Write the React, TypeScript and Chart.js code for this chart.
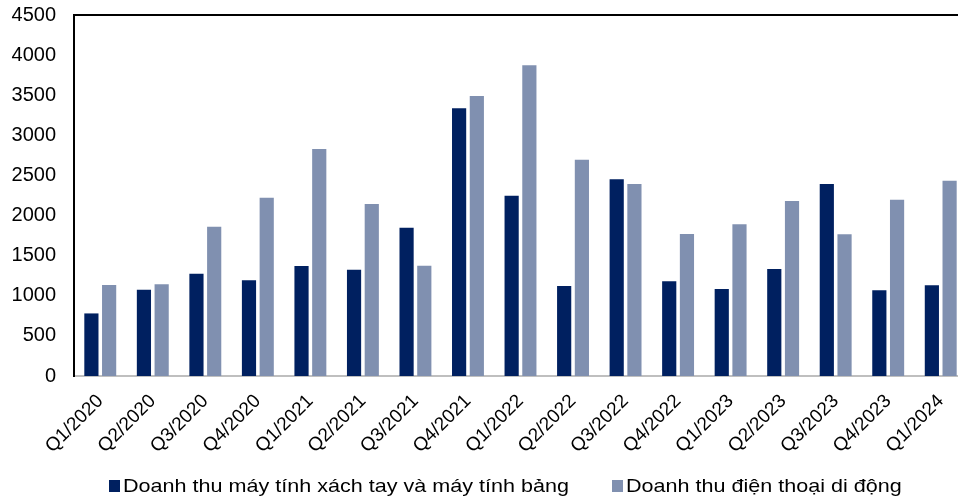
import React, { useEffect, useRef } from "react";
import { Chart, registerables } from "chart.js";

Chart.register(...registerables);

const categories = [
  "Q1/2020", "Q2/2020", "Q3/2020", "Q4/2020",
  "Q1/2021", "Q2/2021", "Q3/2021", "Q4/2021",
  "Q1/2022", "Q2/2022", "Q3/2022", "Q4/2022",
  "Q1/2023", "Q2/2023", "Q3/2023", "Q4/2023",
  "Q1/2024",
];

const laptopTablet = [780, 1076, 1276, 1193, 1371, 1325, 1849, 3337, 2248, 1122, 2452, 1180, 1085, 1334, 2393, 1068, 1131];
const mobilePhone = [1135, 1143, 1862, 2223, 2830, 2144, 1375, 3490, 3873, 2697, 2393, 1770, 1891, 2182, 1766, 2198, 2435];

const seriesNames = [
  "Doanh thu máy tính xách tay và máy tính bảng",
  "Doanh thu điện thoại di động",
];
const seriesColors = ["#002060", "#8090B0"];

const yMin = 0;
const yMax = 4500;
const yStep = 500;

const FONT = "'Liberation Sans', Arial, sans-serif";

const frame = {
  id: "frame",
  afterDraw(chart: any) {
    const { ctx, chartArea } = chart;
    ctx.save();
    ctx.strokeStyle = "#000000";
    ctx.lineWidth = 2;
    ctx.beginPath();
    ctx.moveTo(chartArea.left, chartArea.bottom);
    ctx.lineTo(chartArea.left, chartArea.top);
    ctx.lineTo(chartArea.right, chartArea.top);
    ctx.lineTo(chartArea.right, chartArea.bottom);
    ctx.stroke();
    ctx.restore();
  },
};

export default function App() {
  const ref = useRef<HTMLCanvasElement>(null);

  useEffect(() => {
    document.body.style.margin = "0";
    document.body.style.overflow = "hidden";
    const chart = new Chart(ref.current!, {
      type: "bar",
      data: {
        labels: categories,
        datasets: [
          {
            label: seriesNames[0],
            data: laptopTablet,
            backgroundColor: seriesColors[0],
            borderWidth: 0,
            categoryPercentage: 0.675,
            barPercentage: 0.8,
          },
          {
            label: seriesNames[1],
            data: mobilePhone,
            backgroundColor: seriesColors[1],
            borderWidth: 0,
            categoryPercentage: 0.675,
            barPercentage: 0.8,
          },
        ],
      },
      options: {
        responsive: false,
        animation: false,
        layout: { padding: { top: 15, right: 0, left: 0, bottom: 0 } },
        plugins: {
          legend: { display: false },
          tooltip: { enabled: false },
        },
        scales: {
          x: {
            grid: { display: false, drawTicks: false },
            border: { display: true, color: "#BFBFBF", width: 2 },
            ticks: {
              color: "#000000",
              font: { family: FONT, size: 19 },
              minRotation: 45,
              maxRotation: 45,
              padding: 14,
              autoSkip: false,
            },
            afterFit: (scale: any) => {
              scale.height = 123;
              scale.paddingLeft = 0;
              scale.paddingRight = 0;
            },
          },
          y: {
            min: yMin,
            max: yMax,
            grid: { display: false, drawTicks: false },
            border: { display: true, color: "#000000", width: 2 },
            ticks: {
              stepSize: yStep,
              color: "#000000",
              font: { family: FONT, size: 20 },
              padding: 18,
              callback: (v: any) => String(v),
            },
            afterFit: (scale: any) => {
              scale.width = 74;
              scale.paddingTop = 0;
              scale.paddingBottom = 0;
            },
          },
        },
      },
      plugins: [frame],
    });
    return () => chart.destroy();
  }, []);

  const legendItems = [
    { left: 109, textLeft: 123 },
    { left: 612, textLeft: 626 },
  ];

  return (
    <div style={{ position: "fixed", left: 0, top: 0, width: 958, height: 499, overflow: "hidden", background: "#fff" }}>
      <canvas ref={ref} width={967} height={499} style={{ position: "absolute", left: 0, top: 0, width: 967, height: 499 }} />
      {seriesNames.map((name, i) => (
        <React.Fragment key={name}>
          <div
            style={{
              position: "absolute",
              left: legendItems[i].left,
              top: 480,
              width: 11,
              height: 12,
              background: seriesColors[i],
            }}
          />
          <div
            style={{
              position: "absolute",
              left: legendItems[i].textLeft,
              top: 476,
              fontFamily: FONT,
              fontSize: 19,
              lineHeight: "19px",
              color: "#000",
              whiteSpace: "nowrap",
              transform: "scaleX(1.135)",
              transformOrigin: "left top",
            }}
          >
            {name}
          </div>
        </React.Fragment>
      ))}
    </div>
  );
}
